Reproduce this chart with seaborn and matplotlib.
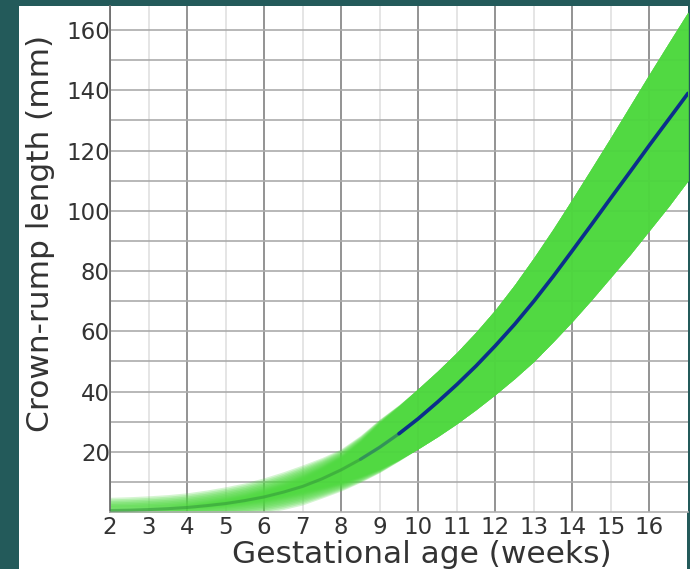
import numpy as np
import pandas as pd
import seaborn as sns
import matplotlib.pyplot as plt
from matplotlib.patches import Rectangle
from matplotlib.ticker import FixedLocator, FormatStrFormatter

sns.set_style("white")
plt.rcParams['font.family'] = ['DejaVu Sans']

# gestational age in weeks and crown-rump length (mm)
weeks = [2, 2.5, 3, 3.5, 4, 4.5, 5, 5.5, 6, 6.5, 7, 7.5, 8, 8.5, 9, 9.5,
         10, 10.5, 11, 11.5, 12, 12.5, 13, 13.5, 14, 14.5, 15, 15.5, 16, 16.5, 17]
crl_median = [0.5, 0.6, 0.8, 1.1, 1.5, 2.1, 2.8, 3.8, 5, 6.6, 8.5, 11, 14, 17.5, 21.5, 26,
              31, 36.5, 42.3, 48.5, 55.2, 62.3, 70, 78.2, 86.8, 95.5, 104.3, 113, 121.8, 130.4, 139]
crl_lower = [0, 0.1, 0.2, 0.4, 0.6, 1, 1.5, 2.2, 3, 4.2, 5.5, 7.2, 9, 11.3, 14, 17.3,
             21, 25, 29.3, 34, 39, 44.3, 50, 56.5, 63.3, 70.5, 78, 85.5, 93.5, 101.5, 110]
crl_upper = [1.5, 1.7, 2, 2.4, 3, 3.9, 5, 6.3, 8, 10, 12.5, 15.5, 19, 24, 30, 35.3,
             41, 46.8, 53, 59.8, 67.2, 75.5, 84.5, 94, 104, 114.2, 124.5, 135, 145.5, 155.8, 166]
y_labels = [str(v) for v in range(20, 161, 20)]

df = pd.DataFrame({"week": weeks, "median": crl_median,
                   "lower": crl_lower, "upper": crl_upper})
w = df["week"].to_numpy()
med = df["median"].to_numpy()
lo = df["lower"].to_numpy()
hi = df["upper"].to_numpy()

W, H = 690, 569
fig = plt.figure(figsize=(W / 100, H / 100), dpi=100)
fig.patch.set_facecolor("#235a5a")
fig.add_artist(Rectangle((19 / W, 0), (687 - 19) / W, (H - 6) / H,
                         transform=fig.transFigure, facecolor="white",
                         edgecolor="none", zorder=-10))

ax = fig.add_axes([110 / W, (H - 512) / H, (688 - 110) / W, (512 - 6) / H])
ax.set_facecolor("white")

green = "#4fd940"

# band drawn as shifted copies: spread (blurred) early on, stacked (crisp) later
blur = 2.6 * np.clip((9.8 - w) / 3.0, 0, 1)
for off in np.linspace(-1, 1, 14):
    ax.fill_between(w, lo + off * blur - abs(off) * blur * 0.3,
                    hi + off * blur + abs(off) * blur * 0.3,
                    color=green, alpha=0.24, lw=0, zorder=2)

# median: faint green early, blue later
sns.lineplot(data=df[df["week"] <= 9.5], x="week", y="median", ax=ax,
             color="#2f8f3a", alpha=0.5, lw=2.2, zorder=4)
sns.lineplot(data=df[df["week"] >= 8.5], x="week", y="median", ax=ax,
             color="#1d5a8c", alpha=0.35, lw=2.4, zorder=4)
sns.lineplot(data=df[df["week"] >= 9.5], x="week", y="median", ax=ax,
             color="#0b2f8c", lw=2.6, zorder=5)

ax.set_xlim(2, 17)
ax.set_ylim(0, 168)

ax.xaxis.set_major_locator(FixedLocator(list(range(2, 17, 2))))
ax.xaxis.set_minor_locator(FixedLocator(list(range(3, 17, 2))))
ax.xaxis.set_major_formatter(FormatStrFormatter("%d"))
ax.xaxis.set_minor_formatter(FormatStrFormatter("%d"))
ax.yaxis.set_major_locator(FixedLocator(list(range(20, 161, 20))))
ax.yaxis.set_minor_locator(FixedLocator(list(range(10, 161, 20))))
ax.set_yticklabels(y_labels)

ax.grid(which="major", axis="x", color="#8a8a8a", lw=1.3, zorder=1)
ax.grid(which="minor", axis="x", color="#dedede", lw=1.1, zorder=1)
ax.grid(which="both", axis="y", color="#ababab", lw=1.2, zorder=1)
ax.set_axisbelow(True)

ax.tick_params(axis="both", which="both", length=0, labelsize=16.5,
               labelcolor="#333333")
ax.tick_params(axis="x", which="both", pad=3)
ax.tick_params(axis="y", which="both", pad=0)

for s in ["top", "right"]:
    ax.spines[s].set_visible(False)
ax.spines["left"].set_color("#6f6f6f")
ax.spines["left"].set_linewidth(1.3)
ax.spines["bottom"].set_color("#b0b0b0")
ax.spines["bottom"].set_linewidth(1.2)

ax.set_xlabel("Gestational age (weeks)", fontsize=22.5, color="#333333")
ax.set_ylabel("Crown-rump length (mm)", fontsize=22.5, color="#333333")
ax.xaxis.set_label_coords(0.54, -0.056, transform=ax.transAxes)
ax.yaxis.set_label_coords(-0.12, 0.55, transform=ax.transAxes)
ax.xaxis.label.set_verticalalignment("top")
ax.yaxis.label.set_verticalalignment("center")

fig.savefig("out.png", dpi=100, facecolor=fig.get_facecolor())
